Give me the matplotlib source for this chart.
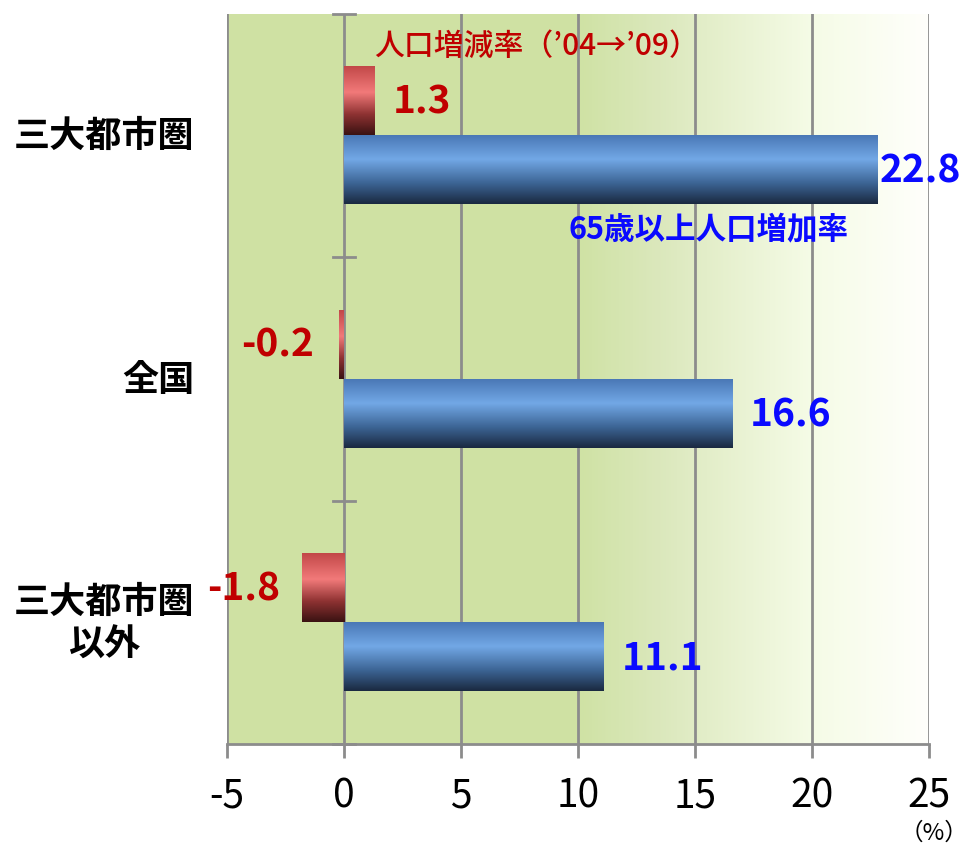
import matplotlib.pyplot as plt
import numpy as np
from matplotlib import font_manager
from matplotlib.colors import LinearSegmentedColormap

# 人口増減率 と 65歳以上人口増加率 (%)
categories = ['三大都市圏', '全国', '三大都市圏\n以外']
pop_change = [1.3, -0.2, -1.8]
elderly_change = [22.8, 16.6, 11.1]
xticks = [-5, 0, 5, 10, 15, 20, 25]

plt.rcParams['font.family'] = ['Noto Sans CJK JP', 'DejaVu Sans']

# 目盛り数字は細身の書体があればそれを使う
names = {f.name for f in font_manager.fontManager.ttflist}
tick_font = 'Liberation Sans Narrow' if 'Liberation Sans Narrow' in names else 'Noto Sans CJK JP'

fig = plt.figure(figsize=(9.7, 8.45), dpi=100)
ax = fig.add_axes([227 / 970, 100 / 845, 702 / 970, 730 / 845])

xmin, xmax = -5, 25
ax.set_xlim(xmin, xmax)
ax.set_ylim(2.5, -0.5)

# 背景: 左は緑、右へ白にフェード
bg = LinearSegmentedColormap.from_list('bg', [
    (0.0, (0.812, 0.886, 0.643)),
    (0.5, (0.812, 0.886, 0.643)),
    (0.62, (0.86, 0.91, 0.74)),
    (0.83, (0.96, 0.985, 0.90)),
    (1.0, (1.0, 1.0, 0.985)),
])
ax.imshow(np.linspace(0, 1, 512).reshape(1, -1), cmap=bg, aspect='auto',
          extent=[xmin, xmax, 2.5, -0.5], zorder=0)

for x in xticks:
    ax.axvline(x, color='#8c8c8c', lw=2, zorder=1)

red_cmap = LinearSegmentedColormap.from_list('red', [
    (0.0, '#c24848'), (0.38, '#f27a7a'), (0.7, '#8e3232'), (1.0, '#3a1212')])
blue_cmap = LinearSegmentedColormap.from_list('blue', [
    (0.0, '#4a78b6'), (0.35, '#72a8e6'), (0.7, '#3c6494'), (1.0, '#1a2940')])

y = np.arange(len(categories))
h = 0.28
red_bars = ax.barh(y - 0.142, pop_change, height=h, color='none', zorder=2)
blue_bars = ax.barh(y + 0.142, elderly_change, height=h, color='none', zorder=2)

grad = np.linspace(0, 1, 256).reshape(-1, 1)
for bars, cmap in ((red_bars, red_cmap), (blue_bars, blue_cmap)):
    for p in bars:
        x0, y0 = p.get_x(), p.get_y()
        w, hh = p.get_width(), p.get_height()
        ax.imshow(grad, cmap=cmap, aspect='auto', zorder=3,
                  extent=[min(x0, x0 + w), max(x0, x0 + w), y0 + hh, y0])

ax.set_xlim(xmin, xmax)
ax.set_ylim(2.5, -0.5)

# 値ラベル (オフセットはピクセル)
red_off = [18, -25, -22]
blue_off = [2, 17, 18]
for p, v, off in zip(red_bars, pop_change, red_off):
    xe = p.get_x() + p.get_width()
    ax.annotate(f'{v:.1f}', (xe, p.get_y() + p.get_height() / 2),
                xytext=(off * 0.72, 0), textcoords='offset points',
                ha='left' if off > 0 else 'right', va='center',
                color='#c00000', fontsize=28, fontweight='bold', zorder=5,
                annotation_clip=False)
for p, v, off in zip(blue_bars, elderly_change, blue_off):
    xe = p.get_x() + p.get_width()
    ax.annotate(f'{v:.1f}', (xe, p.get_y() + p.get_height() / 2),
                xytext=(off * 0.72, 0), textcoords='offset points',
                ha='left', va='center',
                color='#0a0aff', fontsize=28, fontweight='bold', zorder=5,
                annotation_clip=False)

ax.text(1.3, -0.37, '人口増減率（’04→’09）', color='#c00000', fontsize=21.5,
        fontweight='medium', va='center', ha='left', zorder=5)
ax.text(9.6, 0.38, '65歳以上人口増加率', color='#0a0aff', fontsize=22,
        fontweight='bold', va='center', ha='left', zorder=5)

# 軸
for s in ['top', 'right', 'left']:
    ax.spines[s].set_visible(False)
ax.spines['bottom'].set_color('#8c8c8c')
ax.spines['bottom'].set_linewidth(2)
ax.set_xticks(xticks)
ax.set_xticklabels([str(t) for t in xticks], family=[tick_font, 'DejaVu Sans'],
                   fontsize=28)
ax.tick_params(axis='x', length=10, width=2, color='#8c8c8c', pad=13)

ax.set_yticks([])
for b in [-0.5, 0.5, 1.5, 2.5]:
    ax.plot([-0.45, 0.45], [b, b], color='#8c8c8c', lw=2, zorder=4, clip_on=False)
for yi, lab in zip(y, categories):
    ax.text(-0.046, yi, lab, transform=ax.get_yaxis_transform(),
            ha='right', va='center', multialignment='center',
            fontsize=26, fontweight='bold', linespacing=1.2)

fig.text(968 / 970, 1 - 833 / 845, '（%）', ha='right', va='center', fontsize=17)

fig.savefig('out.png', dpi=100)
